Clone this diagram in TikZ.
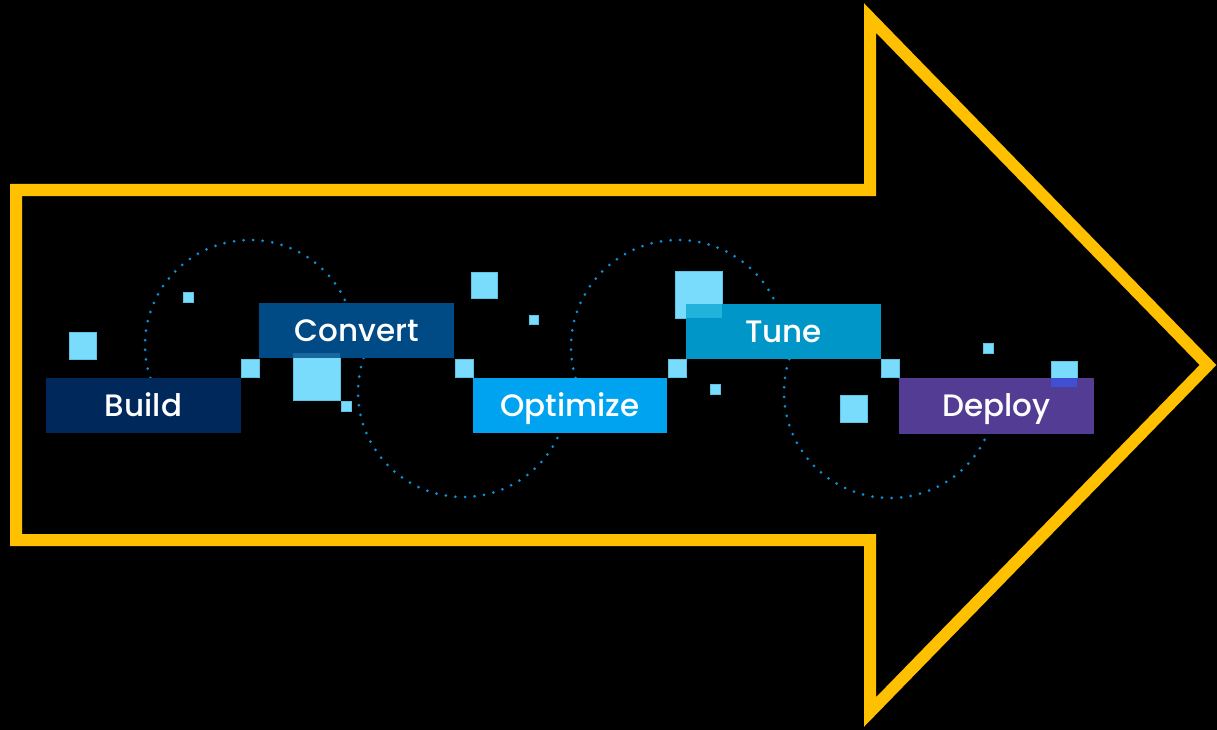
\documentclass[tikz,border=0pt]{standalone}
\usepackage{fontspec}
\setmainfont{Poppins}
\newfontfamily\stepfont{Poppins Medium}
\begin{document}
\begin{tikzpicture}[x=1pt,y=1pt,
  stepbox/.style={minimum width=195pt,minimum height=55pt,inner sep=0pt,text=white,text height=21.5pt,text depth=0pt,font=\stepfont\fontsize{31}{34}\selectfont},
  cube/.style={fill=sqc,draw=sqd,line width=0.8pt},
  orbit/.style={draw=dotc,line width=3pt,line cap=round,dash pattern=on 0pt off 9.6pt},
  frame/.style={draw=arrowc,line width=12pt,line join=miter}]
\definecolor{arrowc}{HTML}{FFC000}
\definecolor{sqc}{HTML}{7ADCFC}
\definecolor{sqd}{HTML}{5FC2E2}
\definecolor{dotc}{HTML}{0A90D8}
\definecolor{cbuild}{HTML}{01285A}
\definecolor{cconv}{HTML}{004A86}
\definecolor{copt}{HTML}{00A3F0}
\definecolor{ctune}{HTML}{0096C8}
\definecolor{cdep}{HTML}{523C94}
\useasboundingbox (0,0) rectangle (1217,-730);
\fill[black] (0,0) rectangle (1217,-730);
% yellow arrow outline
\draw[frame] (16,-190) -- (870,-190) -- (870,-18) -- (1208,-365) -- (870,-712) -- (870,-540) -- (16,-540) -- cycle;
% dotted orbits
\draw[orbit] (250,-345) ++(198.3:105) arc[start angle=198.3,end angle=23.6,radius=105];
\draw[orbit] (463,-392) ++(161.1:105) arc[start angle=161.1,end angle=337,radius=105];
\draw[orbit] (678,-347) ++(196.8:107) arc[start angle=196.8,end angle=23.7,radius=107];
\draw[orbit] (890,-392) ++(161.9:106) arc[start angle=161.9,end angle=336.7,radius=106];
% squares
\newcommand{\cubeat}[3]{\filldraw[cube] (#1,-#2) rectangle ++(#3,-#3);}
\cubeat{69}{332}{27}
\cubeat{183}{292}{10}
\cubeat{241}{359}{18}
\cubeat{293}{353}{47}
\cubeat{341}{401}{10}
\cubeat{455}{359}{18}
\cubeat{471}{272}{26}
\cubeat{529}{315}{9.5}
\cubeat{668}{359}{18}
\cubeat{675}{271}{47}
\cubeat{710}{384}{10}
\cubeat{840}{395}{27}
\cubeat{881}{359}{18}
\cubeat{983}{343}{10}
\cubeat{1051}{361}{26}
% step boxes
\node[stepbox,fill=cbuild] (build) at (143.5,-405.5) {Build};
\node[stepbox,fill=cconv] (convert) at (356.5,-330.5) {Convert};
\node[stepbox,fill=copt,minimum width=194pt] (optimize) at (570,-405.5) {Optimize};
\node[stepbox,fill=ctune] (tune) at (783.5,-331.5) {Tune};
\node[stepbox,fill=cdep,minimum height=56pt] (deploy) at (996.5,-406) {Deploy};
% overlaps of squares with boxes
\fill[fill=cconv!80!sqc] (293,-353) rectangle (340,-358);
\fill[fill=ctune!70!sqc!90!cyan] (686,-304) rectangle (722,-318);
\fill[fill=cdep!55!blue!75!sqc] (1051,-378) rectangle (1077,-387);
\end{tikzpicture}
\end{document}
